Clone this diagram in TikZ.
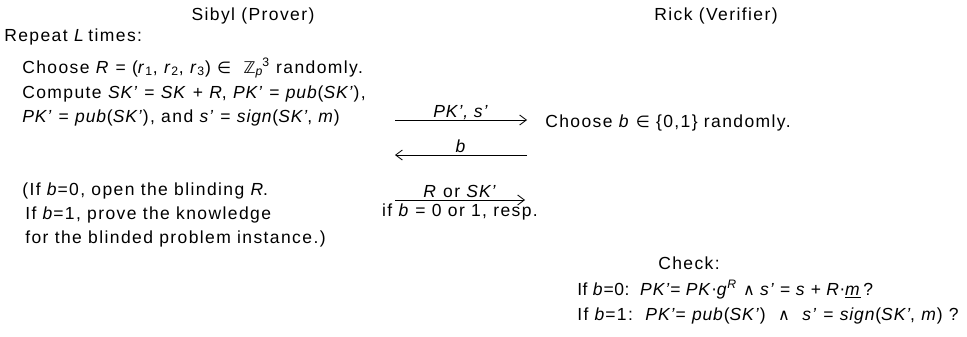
\documentclass[tikz,border=0pt]{standalone}
\usepackage{fontspec}
\setmainfont[LetterSpace=8,ItalicFeatures={LetterSpace=5}]{Liberation Sans}
\newfontfamily\symfont[Scale=0.92]{DejaVu Sans}
\usetikzlibrary{arrows.meta}
\newcommand{\sy}[1]{{\symfont #1}}
\newcommand{\vi}[1]{\textit{#1}}

\begin{document}
\begin{tikzpicture}[x=0.6pt,y=-0.6pt,font=\fontsize{10.5pt}{12pt}\selectfont,
    txt/.style={anchor=base west,inner sep=0pt},
    head/.style={anchor=base,inner sep=0pt},
    msg/.style={line width=0.5pt,-{Straight Barb[length=4pt,width=6pt]}},
    lbl/.style={anchor=base,inner sep=0pt,yshift=1.5pt}]
    \useasboundingbox (0,0) rectangle (967,336);

    % the two parties
    \node[head] (sibyl) at (253,20) {Sibyl (Prover)};
    \node[head] (rick) at (716,20) {Rick (Verifier)};

    % Sibyl: blinding and commitment
    \node[txt] (rep) at (4,41) {Repeat \vi{L}\kern-1.5pt\ times:};
    \node[txt] (chR) at (22,73) {Choose \vi{R} = (\vi{r}\textsubscript{1}, \vi{r}\textsubscript{2}, \vi{r}\textsubscript{3}) \sy{∈} \ \sy{ℤ}\textsubscript{\vi{p}}\kern-1pt\textsuperscript{3} randomly.};
    \node[txt] (cmp) at (22,98) {Compute \vi{SK'} = \vi{SK} + \vi{R}, \vi{PK'} = \vi{pub}(\vi{SK'}),};
    \node[txt] (pk) at (22,122) {\vi{PK'} = \vi{pub}(\vi{SK'}), and \vi{s'} = \vi{sign}(\vi{SK'}, \vi{m})};

    % Rick: challenge
    \node[txt] (chb) at (545,127) {Choose \vi{b} \sy{∈} \{0,1\} randomly.};

    % Sibyl: response
    \node[txt] (op0) at (22,195) {(If \vi{b}=0, open the blinding \vi{R}.};
    \node[txt] (op1) at (25,219) {If \vi{b}=1, prove the knowledge};
    \node[txt] (op2) at (25,243) {for the blinded problem instance.)};

    % Rick: verification
    \node[head] (chk) at (689,269) {Check:};
    \node[txt] (ck0) at (577,295) {\addfontfeature{LetterSpace=3}If \vi{b}=0:\ \ \vi{PK'}= \vi{PK}\sy{·}\vi{g}\textsuperscript{\vi{R}} \sy{∧} \vi{s'} = \vi{s} + \vi{R}\sy{·}\underline{\vi{m}}\,?};
    \node[txt] (ck1) at (577,320) {If \vi{b}=1:\ \ \vi{PK'}= \vi{pub}(\vi{SK'})\ \ \sy{∧}\ \ \vi{s'} = \vi{sign}(\vi{SK'}, \vi{m}) ?};

    % messages between the parties
    \coordinate (p1) at (395,120);
    \coordinate (v1) at (527,120);
    \coordinate (p2) at (395,155);
    \coordinate (v2) at (527,155);
    \coordinate (p3) at (395,200);
    \coordinate (v3) at (525,200);
    \draw[msg] (p1) -- node[lbl] {\vi{PK', s'}} (v1);
    \draw[msg] (v2) -- node[lbl] {\vi{b}} (p2);
    \draw[msg] (p3) -- node[lbl] {\vi{R} or \vi{SK'}} (v3);
    \node[head] (resp) at (460,216) {if \vi{b} = 0 or 1, resp.};
\end{tikzpicture}
\end{document}
